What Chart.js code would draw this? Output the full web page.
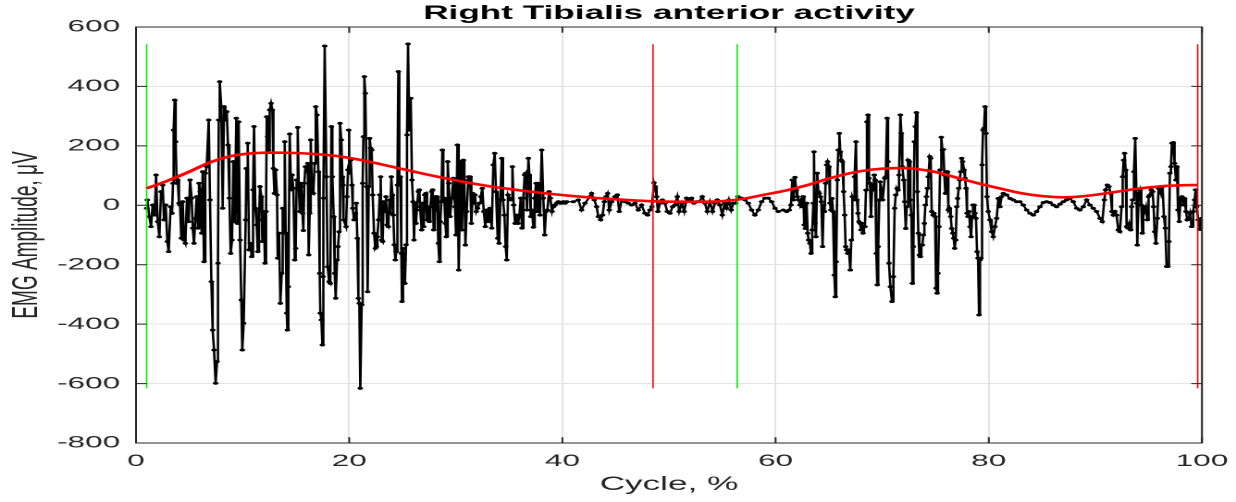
<!DOCTYPE html>
<html>
<head>
<meta charset="utf-8">
<script src="https://cdn.jsdelivr.net/npm/chart.js@4.4.1/dist/chart.umd.min.js"></script>
<style>
html,body{margin:0;padding:0;background:#fff;overflow:hidden;}
#wrap{width:668px;height:502px;transform:scaleX(1.8503);transform-origin:0 0;}
canvas{display:block;}
</style>
</head>
<body>
<div id="wrap"><canvas id="c" width="668" height="502"></canvas></div>
<script>
// ---- Data (cycle %, EMG amplitude µV) ----
const emgCycle01to10 = [[1.00,-10],[1.06,18],[1.25,-38],[1.41,-72],[1.56,1],[1.75,-33],[1.88,102],[2.03,-55],[2.19,-106],[2.35,46],[2.50,68],[2.63,-49],[2.78,1],[2.94,-122],[3.06,-156],[3.25,-5],[3.38,-27],[3.47,74],[3.53,253],[3.63,354],[3.72,214],[3.81,74],[3.91,85],[4.03,7],[4.13,1],[4.25,-111],[4.38,12],[4.50,-117],[4.63,-128],[4.78,24],[4.94,-55],[5.07,85],[5.22,24],[5.32,-77],[5.44,-128],[5.57,-44],[5.69,29],[5.82,-77],[5.91,74],[6.04,46],[6.16,-94],[6.25,113],[6.38,-190],[6.50,108],[6.63,130],[6.82,287],[6.94,18],[7.07,-257],[7.19,-420],[7.32,-487],[7.47,-599],[7.60,-526],[7.69,-195],[7.76,287],[7.85,416],[8.00,332],[8.13,-10],[8.26,332],[8.38,287],[8.51,315],[8.63,203],[8.76,24],[8.88,-162],[9.01,-117],[9.13,147],[9.26,-55],[9.41,293],[9.51,-61],[9.63,281],[9.76,-117],[9.88,-319],[9.97,-487],[10.10,-397]];
const emgCycle10to20 = [[10.29,-49],[10.35,124],[10.48,209],[10.60,-150],[10.73,-128],[10.85,-173],[10.98,52],[11.07,265],[11.20,-10],[11.32,-66],[11.42,-156],[11.54,-49],[11.63,63],[11.76,29],[11.85,-122],[11.98,-21],[12.10,-195],[12.20,-21],[12.26,298],[12.35,231],[12.45,186],[12.54,321],[12.67,343],[12.79,321],[12.89,124],[12.98,40],[13.10,119],[13.23,35],[13.29,-178],[13.42,-94],[13.54,-330],[13.67,-229],[13.76,-10],[13.85,-94],[13.95,214],[14.04,-94],[14.14,-363],[14.20,-420],[14.29,-274],[14.42,240],[14.54,52],[14.64,102],[14.76,57],[14.89,-184],[14.98,-145],[15.07,85],[15.17,262],[15.26,74],[15.36,-21],[15.42,74],[15.51,63],[15.61,-27],[15.70,-85],[15.79,74],[15.89,130],[16.01,113],[16.11,141],[16.20,-167],[16.29,-27],[16.39,220],[16.51,46],[16.64,40],[16.76,141],[16.86,332],[16.98,304],[17.11,113],[17.23,-229],[17.29,-363],[17.39,-386],[17.48,-470],[17.54,-240],[17.61,24],[17.70,536],[17.86,96],[17.98,-207],[18.11,-257],[18.23,-263],[18.33,265],[18.42,96],[18.55,-38],[18.64,-229],[18.73,-313],[18.86,-184],[18.95,-139],[19.05,-89],[19.14,276],[19.26,220],[19.36,96],[19.42,68],[19.51,-49]];
const emgCycle20to30 = [[19.70,-72],[19.79,29],[19.89,119],[19.95,253],[20.04,108],[20.14,152],[20.26,68],[20.33,-10],[20.45,-49],[20.58,-27],[20.67,7],[20.76,-111],[20.86,-313],[20.95,-330],[21.04,-616],[21.17,-335],[21.26,74],[21.33,231],[21.42,433],[21.51,377],[21.64,63],[21.73,-291],[21.83,63],[21.92,225],[22.01,192],[22.11,186],[22.20,35],[22.33,-94],[22.45,-145],[22.55,-139],[22.64,-106],[22.76,-49],[22.86,35],[22.95,96],[23.05,-117],[23.14,-122],[23.23,12],[23.36,-21],[23.45,29],[23.55,-66],[23.67,-72],[23.77,18],[23.86,-27],[23.95,96],[24.05,35],[24.14,-33],[24.23,-133],[24.33,-184],[24.42,-156],[24.52,68],[24.61,450],[24.70,68],[24.80,96],[24.89,-162],[24.95,-324],[25.05,-145],[25.14,-184],[25.23,-263],[25.33,-133],[25.42,237],[25.52,543],[25.64,253],[25.77,360],[25.89,85],[25.99,12],[26.08,-117],[26.17,7],[26.27,-61],[26.36,-5],[26.49,46],[26.58,52],[26.67,-16],[26.80,-83],[26.89,7],[26.99,-72],[27.08,35],[27.20,40],[27.30,-49],[27.39,-5],[27.52,-55],[27.61,-5],[27.74,46],[27.83,52],[27.92,-83],[28.02,29],[28.14,-16],[28.24,29],[28.36,-128],[28.46,-190],[28.55,-55],[28.64,12],[28.74,186],[28.83,12],[28.92,24],[29.02,-61],[29.11,-106],[29.24,147],[29.33,74],[29.46,-38]];
const emgCycle30to40 = [[29.62,24],[29.77,91],[29.93,-5],[30.02,-100],[30.15,203],[30.27,-218],[30.40,24],[30.49,147],[30.58,-83],[30.71,152],[30.80,85],[30.90,-134],[31.02,-21],[31.18,96],[31.34,96],[31.46,-61],[31.59,40],[31.71,7],[31.80,35],[31.93,-21],[32.05,-10],[32.21,7],[32.34,29],[32.49,57],[32.62,-21],[32.77,-72],[32.90,-16],[33.06,-55],[33.21,-10],[33.37,-77],[33.52,136],[33.65,175],[33.77,46],[33.93,-111],[34.06,-128],[34.18,18],[34.31,158],[34.43,18],[34.56,-33],[34.68,-139],[34.78,-184],[34.90,35],[35.03,24],[35.18,18],[35.31,130],[35.43,1],[35.56,-61],[35.68,-33],[35.84,-61],[35.96,-38],[36.09,24],[36.21,-77],[36.34,24],[36.46,102],[36.56,108],[36.68,-16],[36.81,158],[36.90,102],[37.03,-38],[37.15,-16],[37.28,-74],[37.40,24],[37.53,74],[37.65,-21],[37.78,74],[37.90,-33],[38.06,186],[38.21,24],[38.34,-100],[38.46,-21],[38.59,-16],[38.75,46],[38.87,24],[39.03,-21],[39.15,-5],[39.31,1],[39.47,7],[39.62,12],[39.78,7],[39.93,7],[40.09,12],[40.25,7],[40.40,12]];
const emgCycle40to60 = [[41.02,12],[41.49,18],[41.80,-16],[42.12,7],[42.58,29],[42.74,40],[42.99,18],[43.21,-5],[43.37,-38],[43.59,-49],[43.77,-33],[43.93,12],[44.09,29],[44.24,40],[44.40,-16],[44.62,12],[44.93,29],[45.15,35],[45.34,-21],[45.56,18],[45.87,12],[46.18,7],[46.49,1],[46.81,7],[47.12,-16],[47.43,1],[47.74,-27],[47.99,-33],[48.21,-16],[48.40,-5],[48.59,76],[48.71,63],[48.84,29],[48.96,-21],[49.15,7],[49.37,18],[49.62,7],[49.84,-21],[50.09,-27],[50.34,-5],[50.56,1],[50.78,29],[50.96,-21],[51.21,7],[51.43,-21],[51.65,24],[51.90,16],[52.12,24],[52.34,7],[52.59,12],[52.84,12],[53.12,29],[53.37,7],[53.59,-21],[53.84,12],[54.09,-21],[54.31,7],[54.53,18],[54.78,1],[55.00,-33],[55.22,7],[55.41,-10],[55.62,18],[55.84,-16],[56.03,7],[56.28,7],[56.47,29],[56.81,24],[57.13,18],[57.44,7],[57.75,-16],[58.06,-33],[58.38,-16],[58.69,12],[59.00,24],[59.31,24],[59.63,12],[59.94,-10],[60.25,-21]];
const emgCycle60to70 = [[60.72,-16],[61.04,-21],[61.29,-16],[61.44,1],[61.57,85],[61.69,18],[61.82,94],[61.94,51],[62.04,29],[62.16,18],[62.29,1],[62.41,18],[62.51,-5],[62.60,29],[62.69,-66],[62.79,-78],[62.91,7],[63.01,-94],[63.10,-117],[63.22,-128],[63.32,-162],[63.44,-83],[63.54,7],[63.60,180],[63.69,-61],[63.79,-106],[63.91,108],[64.01,46],[64.10,40],[64.19,29],[64.29,12],[64.41,-139],[64.51,1],[64.60,-21],[64.69,74],[64.79,136],[64.88,147],[65.01,130],[65.10,7],[65.19,-16],[65.29,23],[65.38,-21],[65.51,-235],[65.60,-308],[65.69,-190],[65.79,85],[65.88,186],[65.98,242],[66.07,180],[66.16,152],[66.26,147],[66.38,46],[66.48,-33],[66.57,-139],[66.66,-150],[66.76,-162],[66.88,-150],[67.01,-218],[67.10,-117],[67.20,29],[67.32,18],[67.41,96],[67.54,214],[67.63,18],[67.73,-27],[67.82,-55],[67.92,-61],[68.01,-83],[68.10,-61],[68.20,-94],[68.29,-72],[68.38,-72],[68.48,51],[68.57,281],[68.67,304],[68.76,91],[68.85,74],[68.95,-38],[69.07,68],[69.17,51],[69.26,102],[69.35,85],[69.45,-162],[69.54,-268],[69.63,-139],[69.73,18],[69.82,79],[69.95,51],[70.04,18]];
const emgCycle70to80 = [[70.24,91],[70.33,96],[70.46,293],[70.55,147],[70.64,-195],[70.77,-274],[70.92,-324],[71.05,-240],[71.17,-10],[71.27,35],[71.39,57],[71.49,51],[71.58,102],[71.71,304],[71.80,242],[71.89,130],[72.02,85],[72.11,12],[72.21,-78],[72.30,-5],[72.43,152],[72.55,147],[72.64,18],[72.74,-33],[72.83,-263],[72.93,-139],[73.02,214],[73.11,265],[73.21,312],[73.30,46],[73.39,-94],[73.49,-167],[73.58,-173],[73.68,-134],[73.77,-134],[73.86,-100],[73.96,-61],[74.05,1],[74.15,29],[74.24,57],[74.33,96],[74.46,164],[74.55,158],[74.65,-21],[74.77,-33],[74.86,-27],[74.96,-38],[75.05,-279],[75.15,-296],[75.24,-229],[75.33,-72],[75.43,119],[75.55,229],[75.65,186],[75.74,188],[75.83,102],[75.93,40],[76.02,113],[76.12,113],[76.21,-16],[76.30,-10],[76.43,-38],[76.52,-78],[76.62,-94],[76.71,-111],[76.80,-145],[76.90,-117],[76.99,-5],[77.08,23],[77.18,57],[77.27,85],[77.37,113],[77.46,158],[77.55,147],[77.68,119],[77.77,91],[77.87,57],[77.96,-27],[78.05,-38],[78.15,-21],[78.24,-72],[78.34,-106],[78.43,-38],[78.52,1],[78.62,1],[78.71,-27],[78.80,-44],[78.90,-156],[78.99,-178],[79.09,-369],[79.18,-184],[79.27,-178],[79.37,136],[79.46,253],[79.55,259],[79.65,332],[79.74,242],[79.83,29],[79.95,-21],[80.11,-49],[80.27,-89],[80.42,-106],[80.58,-72],[80.74,-44]];
const emgCycle80to100 = [[80.89,23],[81.05,-5],[81.20,29],[81.36,40],[81.67,35],[81.99,23],[82.30,18],[82.61,12],[82.92,12],[83.24,1],[83.55,-16],[83.86,-27],[84.18,-33],[84.49,-21],[84.80,-5],[85.11,9],[85.43,12],[85.74,9],[86.05,1],[86.36,-5],[86.68,4],[86.99,12],[87.30,18],[87.61,23],[87.93,12],[88.24,-10],[88.55,-16],[88.87,-5],[89.18,18],[89.49,1],[89.80,-10],[90.12,-21],[90.43,-44],[90.65,-55],[90.84,18],[90.96,52],[91.12,68],[91.27,63],[91.43,40],[91.56,-21],[91.68,-33],[91.84,-21],[91.99,-33],[92.15,-83],[92.30,-89],[92.46,-5],[92.56,96],[92.65,152],[92.74,175],[92.84,119],[92.93,-72],[93.06,-77],[93.18,-61],[93.31,-83],[93.40,-5],[93.49,18],[93.62,113],[93.74,225],[93.87,7],[93.93,-134],[94.06,40],[94.18,52],[94.31,1],[94.40,-94],[94.49,-5],[94.62,-21],[94.74,-5],[94.87,-49],[94.99,29],[95.12,35],[95.24,52],[95.37,46],[95.46,-5],[95.56,-89],[95.68,-128],[95.81,-44],[95.93,57],[96.06,63],[96.18,40],[96.31,63],[96.43,-38],[96.56,-77],[96.68,-206],[96.81,-206],[96.90,-122],[96.99,108],[97.09,130],[97.18,209],[97.31,211],[97.43,141],[97.56,85],[97.65,130],[97.75,-16],[97.87,-55],[97.99,23],[98.12,29],[98.25,1],[98.37,23],[98.50,-21],[98.62,-49],[98.75,-44],[98.87,-27],[99.03,-72],[99.18,-21],[99.31,18],[99.40,52],[99.50,-5],[99.65,-49],[99.81,-81],[99.97,-44]];

// Linear envelope (red)
const envelopeCycle = [1, 3, 5, 7, 9, 11, 13, 15, 17, 19, 21, 23, 25, 27, 29, 31, 33, 35, 37, 39, 41, 43, 45, 47, 49, 51, 53, 55, 57, 59, 61, 63, 65, 67, 69, 71, 73, 75, 77, 79, 81, 83, 85, 87, 89, 91, 93, 95, 97, 99, 99.6];
const envelopeValue = [57, 83, 113, 145, 166, 175, 177, 176, 172, 165, 153, 138, 122, 106, 91, 77, 65, 55, 46, 38, 31, 25, 20, 16, 13, 12, 12, 14, 22, 36, 50, 68, 90, 108, 120, 125, 123, 112, 93, 74, 57, 41, 31, 27, 31, 40, 51, 60, 66, 68, 68];

// Gait events (cycle %)
const heelStrikeEvents = [1.0, 56.4];   // green
const toeOffEvents = [48.5, 99.6];      // red
const eventSpan = [-616, 542];          // min/max of EMG signal

// Axis ticks
const xTicks = [0, 20, 40, 60, 80, 100];
const yTicks = [-800, -600, -400, -200, 0, 200, 400, 600];

// ---- Build datasets ----
const emgAll = [].concat(emgCycle01to10, emgCycle10to20, emgCycle20to30, emgCycle30to40,
  emgCycle40to60, emgCycle60to70, emgCycle70to80, emgCycle80to100).map(p => ({x: p[0], y: p[1]}));
const envelopeData = envelopeCycle.map((x, i) => ({x, y: envelopeValue[i]}));
const eventSet = (xs, color) => xs.map(e => ({
  data: [{x: e, y: eventSpan[0]}, {x: e, y: eventSpan[1]}],
  borderColor: color, borderWidth: 0.8, pointRadius: 0, fill: false
}));

const FONT = 'Liberation Sans, Arial, Helvetica, sans-serif';
const AX = '#262626';

const framePlugin = {
  id: 'frame',
  afterDatasetsDraw(chart) {
    const {ctx, chartArea: a, scales} = chart;
    ctx.save();
    ctx.strokeStyle = AX;
    ctx.lineWidth = 1;
    ctx.strokeRect(a.left, a.top, a.right - a.left, a.bottom - a.top);
    const tl = 5.8;
    ctx.beginPath();
    yTicks.forEach(v => {
      const p = scales.y.getPixelForValue(v);
      ctx.moveTo(a.left, p); ctx.lineTo(a.left + tl, p);
      ctx.moveTo(a.right, p); ctx.lineTo(a.right - tl, p);
    });
    xTicks.forEach(v => {
      const p = scales.x.getPixelForValue(v);
      ctx.moveTo(p, a.bottom); ctx.lineTo(p, a.bottom - tl);
      ctx.moveTo(p, a.top); ctx.lineTo(p, a.top + tl);
    });
    ctx.stroke();
    ctx.restore();
  }
};

new Chart(document.getElementById('c'), {
  type: 'line',
  data: {
    datasets: [
      {label: 'Envelope', data: envelopeData, borderColor: '#ff0000', borderWidth: 2.6,
       pointRadius: 0, tension: 0.4, fill: false},
      ...eventSet(toeOffEvents, '#ff0000'),
      ...eventSet(heelStrikeEvents, '#00ee00'),
      {label: 'EMG', data: emgAll, borderColor: '#000000', borderWidth: 1.3,
       pointRadius: 1.3, pointStyle: 'circle', pointBackgroundColor: '#000000',
       pointBorderColor: '#000000', pointBorderWidth: 0.5, tension: 0, fill: false}
    ]
  },
  options: {
    animation: false,
    responsive: false,
    devicePixelRatio: 2,
    layout: {padding: {left: 0, right: 18.4, top: 0, bottom: 0}},
    plugins: {
      legend: {display: false},
      tooltip: {enabled: false},
      title: {
        display: true, text: 'Right Tibialis anterior activity', fullSize: false,
        color: '#000000', font: {family: FONT, size: 19, weight: 'bold', lineHeight: 1.2},
        padding: {top: 2.5, bottom: 1.7}
      }
    },
    scales: {
      x: {
        type: 'linear', min: 0, max: 100,
        afterFit(s) { s.height = 59; },
        afterBuildTicks(s) { s.ticks = xTicks.map(v => ({value: v})); },
        ticks: {color: AX, font: {family: FONT, size: 17}, padding: 0, maxRotation: 0},
        grid: {color: '#e3e3e3', lineWidth: 1, drawTicks: true, tickLength: 8, tickColor: 'rgba(0,0,0,0)'},
        border: {display: false},
        title: {display: true, text: 'Cycle, %', color: AX,
                font: {family: FONT, size: 19, lineHeight: 1.2}, padding: {top: 0, bottom: 5.6}}
      },
      y: {
        type: 'linear', min: -800, max: 600,
        afterFit(s) { s.width = 73.5; },
        afterBuildTicks(s) { s.ticks = yTicks.map(v => ({value: v})); },
        ticks: {color: AX, font: {family: FONT, size: 17}, padding: 8.6},
        grid: {color: '#e3e3e3', lineWidth: 1, drawTicks: false},
        border: {display: false},
        title: {display: true, text: 'EMG Amplitude, μV', color: AX,
                font: {family: FONT, size: 19, lineHeight: 1.2}, padding: {top: 3.2, bottom: 0}}
      }
    }
  },
  plugins: [framePlugin]
});
</script>
</body>
</html>
